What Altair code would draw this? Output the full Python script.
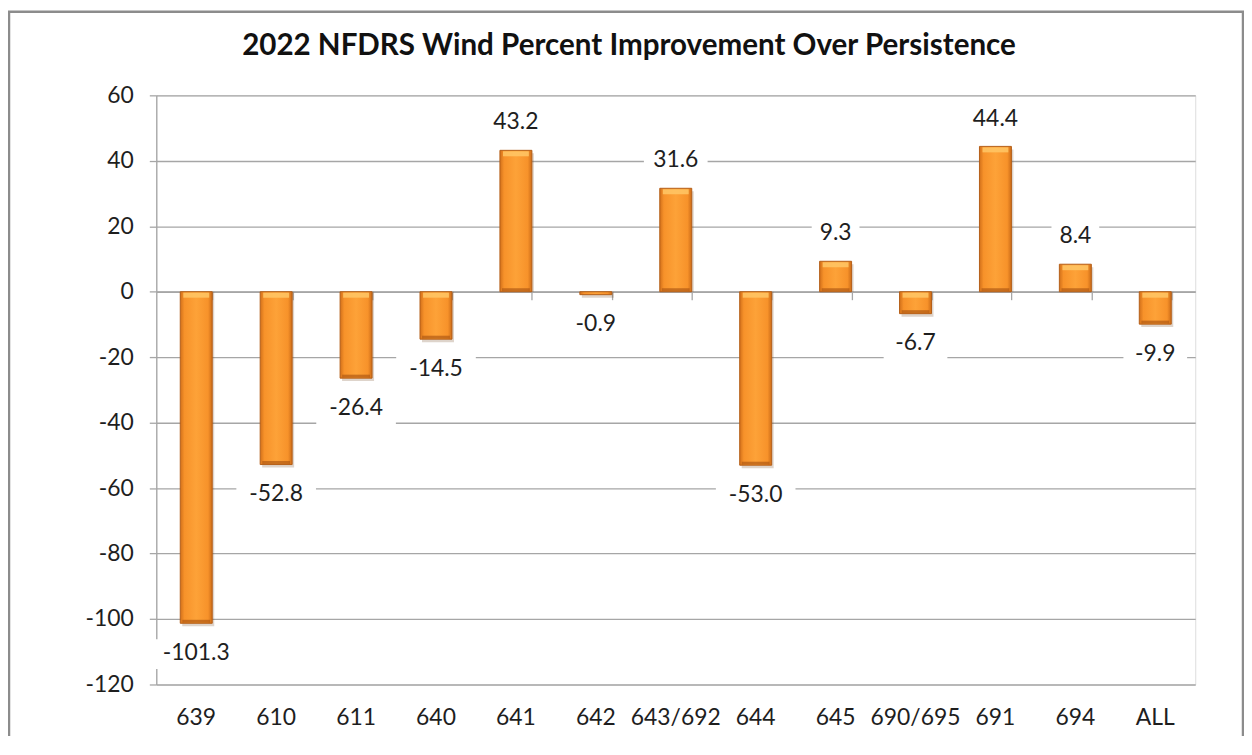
import altair as alt
import pandas as pd

categories = ["639", "610", "611", "640", "641", "642", "643/692", "644",
              "645", "690/695", "691", "694", "ALL"]
values = [-101.3, -52.8, -26.4, -14.5, 43.2, -0.9, 31.6, -53.0,
          9.3, -6.7, 44.4, 8.4, -9.9]
y_ticks = [60, 40, 20, 0, -20, -40, -60, -80, -100, -120]
title_text = "2022 NFDRS Wind Percent Improvement Over Persistence"

df = pd.DataFrame({"cat": categories, "val": values})

W, H = 1044, 592
FONT = "Lato"
GRID = "#a6a6a6"
TXT = "#1e1e1e"

# white label-box outlines (custom symbol paths), one per label length
box_lengths = [3, 4, 5, 6]
box_paths = ["M-{w},-0.3H{w}V0.3H-{w}Z".format(w=round(0.16 * n, 3)) for n in box_lengths]

xscale = alt.Scale(paddingInner=0.6, paddingOuter=0.3)
yscale = alt.Scale(domain=[-120, 60], nice=False)

base = alt.Chart(df).transform_calculate(
    lab="replace(format(datum.val, '.1f'), '\u2212', '-')",
    n="length(replace(format(datum.val, '.1f'), '\u2212', '-'))",
    top="max(datum.val, 0)",
    bot="min(datum.val, 0)",
)

bar_fill = alt.Gradient(
    gradient="linear", x1=0, x2=1, y1=0, y2=0,
    stops=[
        alt.GradientStop(color="#d2701a", offset=0),
        alt.GradientStop(color="#f7922a", offset=0.13),
        alt.GradientStop(color="#fda238", offset=0.5),
        alt.GradientStop(color="#f7922a", offset=0.87),
        alt.GradientStop(color="#cc6c18", offset=1),
    ],
)

y_axis = alt.Axis(values=y_ticks, grid=True, gridColor=GRID, gridWidth=1.3,
                  domainColor=GRID, domainWidth=1.3, tickColor=GRID,
                  tickWidth=1.3, tickSize=7, labelFont=FONT,
                  labelFontSize=23, labelColor=TXT, labelPadding=16,
                  labelExpr="toString(datum.value)")

X_plain = alt.X("cat:N", sort=categories, scale=xscale, axis=None)
Y = alt.Y("val:Q", scale=yscale, title=None, axis=y_axis)

shadow = base.mark_bar(fill="#6a3a10", opacity=0.22, xOffset=2, yOffset=3).encode(
    x=X_plain, y=Y, y2=alt.datum(0),
)

bars = base.mark_bar(fill=bar_fill, stroke="#b45f18", strokeWidth=1).encode(
    x=alt.X("cat:N", sort=categories, scale=xscale, title=None,
            axis=alt.Axis(orient="bottom", domain=False, ticks=False, grid=False,
                          labelAngle=0, labelFont=FONT, labelFontSize=23,
                          labelColor=TXT, labelPadding=22)),
    y=Y,
    y2=alt.datum(0),
)

hi = base.transform_filter("abs(datum.val) > 2").mark_tick(
    orient="horizontal", color="#ffc766", opacity=0.85, thickness=5, size=26,
    yOffset=3.5
).encode(x=X_plain, y=alt.Y("top:Q", scale=yscale, title=None, axis=y_axis))

lo = base.transform_filter("abs(datum.val) > 2").mark_tick(
    orient="horizontal", color="#b05a14", opacity=0.7, thickness=3, size=28,
    yOffset=-2
).encode(x=X_plain, y=alt.Y("bot:Q", scale=yscale, title=None, axis=y_axis))

zero_axis = base.mark_rule(opacity=0).encode(
    x=alt.X("cat:N", sort=categories, scale=xscale, title=None,
            axis=alt.Axis(orient="bottom", offset=-(H * 120 / 180), labels=False,
                          domain=True, domainColor=GRID, domainWidth=1.5,
                          ticks=True, tickColor=GRID, tickWidth=1.3, tickSize=8,
                          tickBand="extent", grid=False)),
    y=Y,
)

def labels(filter_expr, dy):
    boxl = base.transform_filter(filter_expr).mark_point(
        filled=True, fill="white", opacity=1, strokeWidth=0, size=10000,
        yOffset=dy + 1
    ).encode(
        x=X_plain, y=Y,
        shape=alt.Shape("n:O", scale=alt.Scale(domain=box_lengths, range=box_paths),
                        legend=None),
    )
    txt = base.transform_filter(filter_expr).mark_text(
        font=FONT, fontSize=23, dy=dy, color=TXT, baseline="middle"
    ).encode(x=X_plain, y=Y, text="lab:N")
    return boxl, txt

pos_box, pos_txt = labels("datum.val >= 0", -28)
neg_box, neg_txt = labels("datum.val < 0", 30)

frame = alt.Chart(alt.Data(values=[{"a": 1}])).mark_rect(
    fill="transparent", stroke="#8c8c8c", strokeWidth=2.5
).encode(
    x=alt.value(-148), x2=alt.value(W + 48),
    y=alt.value(-84), y2=alt.value(H + 120),
)

title = alt.Chart(alt.Data(values=[{"t": title_text}])).mark_text(
    font=FONT, fontSize=29.7, fontWeight="bold", color="#111111",
    baseline="alphabetic", align="center"
).encode(x=alt.value(475), y=alt.value(-41), text="t:N")

chart = alt.layer(
    frame, shadow, bars, hi, lo, zero_axis, pos_box, neg_box, pos_txt, neg_txt, title
).resolve_axis(x="independent").properties(
    width=W, height=H,
    padding={"left": 149, "top": 86, "right": 49, "bottom": 50},
    autosize=alt.AutoSizeParams(type="none"),
).configure_view(strokeOpacity=0).configure(background="white")

chart.save("out.html", embed_options={"renderer": "svg", "actions": False})
